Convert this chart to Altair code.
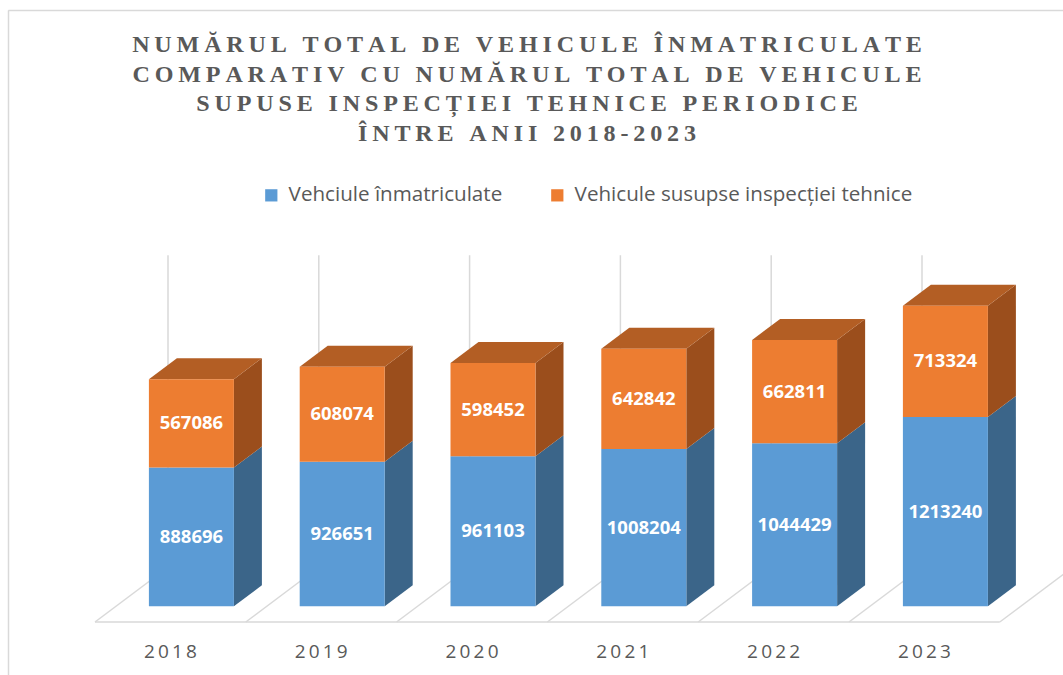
import altair as alt
import pandas as pd

# ---------------- data ----------------
years = ["2018", "2019", "2020", "2021", "2022", "2023"]
registered = [888696, 926651, 961103, 1008204, 1044429, 1213240]
inspected = [567086, 608074, 598452, 642842, 662811, 713324]
series_names = ["Vehciule înmatriculate", "Vehicule susupse inspecției tehnice"]
title_lines = [
    "NUMĂRUL TOTAL DE VEHICULE ÎNMATRICULATE",
    "COMPARATIV CU NUMĂRUL TOTAL DE VEHICULE",
    "SUPUSE INSPECȚIEI TEHNICE PERIODICE",
    "ÎNTRE ANII 2018-2023",
]
wall_top = 2000000  # value axis maximum (top of the back wall)

# ---------------- style / layout ----------------
BLUE, BLUE_SIDE = "#5B9BD5", "#3B6589"
ORANGE, ORANGE_SIDE, ORANGE_TOP = "#ED7D31", "#9B4E1C", "#B35E24"
GRID = "#D9D9D9"
TEXT = "#595959"

W, H = 1055, 665
PAD_L, PAD_T = 8, 10
CAT_PX = 150.8          # pixels per category
FLOOR_LEFT_PX = 87      # front-left floor corner (plot px)
FLOOR_FRONT_PX = 612    # front floor edge (plot px from top)
PX_PER_MILLION = 156.0
CPP = 1e6 / PX_PER_MILLION   # counts per pixel
UPP = 1.0 / CAT_PX           # category units per pixel
SLOPE = 0.75
FLOOR_DEPTH = 73
BAR_FRONT_DEPTH = 21
BAR_DEPTH = 28
BAR_W = 85
YEAR_GAP_PX = 30

x_dom = [-FLOOR_LEFT_PX * UPP, (W - FLOOR_LEFT_PX) * UPP]
y_dom = [-(H - FLOOR_FRONT_PX) * CPP, FLOOR_FRONT_PX * CPP]
xs = alt.Scale(domain=x_dom, nice=False, zero=False)
ys = alt.Scale(domain=y_dom, nice=False, zero=False)


def shift(d):
    return d * UPP, d * SLOPE * CPP


def spaced(s, sep):
    return sep.join(list(s))


# ---------------- derived geometry ----------------
fdx, fdy = shift(BAR_FRONT_DEPTH)
bdx, bdy = shift(BAR_DEPTH)
half = BAR_W / 2 * UPP
shade_side = {series_names[0]: BLUE_SIDE, series_names[1]: ORANGE_SIDE}

front_rows, side_rows, top_rows = [], [], []
for k, (yr, a, b) in enumerate(zip(years, registered, inspected)):
    cx = k + 0.5 + fdx
    x0, x1 = cx - half, cx + half
    base = fdy
    segs = [(series_names[0], base, base + a, a), (series_names[1], base + a, base + a + b, b)]
    for s, lo, hi, v in segs:
        front_rows.append(dict(year=yr, series=s, x0=x0, x1=x1, y0=lo, y1=hi,
                               ymid=(lo + hi) / 2, xc=cx, value=v))
        sid = f"{yr}-{s}"
        side_rows.append(dict(id=sid, x=x1, ylo=lo, yhi=hi, shade=shade_side[s]))
        side_rows.append(dict(id=sid, x=x1 + bdx, ylo=lo + bdy, yhi=hi + bdy, shade=shade_side[s]))
    top = base + a + b
    top_rows.append(dict(id=yr, y=top, xl=x0, xr=x1))
    top_rows.append(dict(id=yr, y=top + bdy, xl=x0 + bdx, xr=x1 + bdx))

front = pd.DataFrame(front_rows)
side = pd.DataFrame(side_rows)
topdf = pd.DataFrame(top_rows)

wdx, wdy = shift(FLOOR_DEPTH)
n = len(years)
grid = pd.DataFrame(dict(x=[k + wdx for k in range(n + 1)],
                         y=[wdy] * (n + 1), y2=[wdy + wall_top] * (n + 1)))
floor = pd.DataFrame(
    [dict(x=0.0, x2=float(n), y=0.0, y2=0.0)]
    + [dict(x=float(k), x2=k + wdx, y=0.0, y2=wdy) for k in range(n + 1)]
)
year_lab = pd.DataFrame(dict(x=[k + 0.5 for k in range(n)],
                             y=[-YEAR_GAP_PX * CPP] * n,
                             t=[spaced(y, "\u2006") for y in years]))

title_text = "\n".join(
    " ".join(spaced(w, "\u2009") for w in line.split(" ")).replace(" ", "\u2009 \u2009")
    for line in title_lines
)

one = pd.DataFrame({"a": [0]})

# ---------------- layers ----------------
border_left = alt.Chart(one).mark_rule(color=GRID, strokeWidth=1.5).encode(
    x=alt.value(0.5), y=alt.value(0.5), y2=alt.value(H))
border_top = alt.Chart(one).mark_rule(color=GRID, strokeWidth=1.5).encode(
    x=alt.value(0.5), x2=alt.value(W), y=alt.value(0.5))

grid_l = alt.Chart(grid).mark_rule(color=GRID, strokeWidth=1.5).encode(
    x=alt.X("x:Q", scale=xs, axis=None),
    y=alt.Y("y:Q", scale=ys, axis=None), y2="y2:Q")

floor_l = alt.Chart(floor).mark_rule(color=GRID, strokeWidth=1.5).encode(
    x=alt.X("x:Q", scale=xs, axis=None), x2="x2:Q",
    y=alt.Y("y:Q", scale=ys, axis=None), y2="y2:Q")

side_l = alt.Chart(side).mark_area(orient="vertical").encode(
    x=alt.X("x:Q", scale=xs, axis=None),
    y=alt.Y("ylo:Q", scale=ys, axis=None, stack=None), y2="yhi:Q",
    fill=alt.Fill("shade:N", scale=None), detail="id:N")

top_l = alt.Chart(topdf).mark_area(orient="horizontal", color=ORANGE_TOP).encode(
    y=alt.Y("y:Q", scale=ys, axis=None),
    x=alt.X("xl:Q", scale=xs, axis=None, stack=None), x2="xr:Q",
    detail="id:N")

front_l = alt.Chart(front).mark_rect().encode(
    x=alt.X("x0:Q", scale=xs, axis=None), x2="x1:Q",
    y=alt.Y("y0:Q", scale=ys, axis=None), y2="y1:Q",
    color=alt.Color("series:N",
                    scale=alt.Scale(domain=series_names, range=[BLUE, ORANGE]),
                    legend=alt.Legend(orient="none", legendX=253, legendY=175,
                                      direction="horizontal", title=None,
                                      symbolType="square", symbolSize=150,
                                      symbolStrokeWidth=0,
                                      labelFont="Open Sans", labelFontSize=20.6,
                                      labelColor=TEXT, labelOffset=7,
                                      columnPadding=44, labelLimit=600)))

val_l = alt.Chart(front).mark_text(font="Open Sans", fontWeight="bold", fontSize=18.5,
                                   color="white", baseline="middle").encode(
    x=alt.X("xc:Q", scale=xs, axis=None),
    y=alt.Y("ymid:Q", scale=ys, axis=None),
    text=alt.Text("value:Q", format="d"))

year_l = alt.Chart(year_lab).mark_text(font="Open Sans", fontSize=19, color=TEXT,
                                       baseline="middle").encode(
    x=alt.X("x:Q", scale=xs, axis=None),
    y=alt.Y("y:Q", scale=ys, axis=None),
    text="t:N")

title_l = alt.Chart(pd.DataFrame({"t": [title_text]})).mark_text(
    font="Liberation Serif", fontWeight="bold", fontSize=24.1, color=TEXT,
    lineBreak="\n", lineHeight=29.5, baseline="middle", align="center").encode(
    x=alt.value(519), y=alt.value(35), text="t:N")

chart = alt.layer(
    border_left, border_top, grid_l, floor_l, side_l, top_l, front_l, val_l, year_l, title_l
).properties(
    width=W, height=H,
    padding={"left": PAD_L, "top": PAD_T, "right": 0, "bottom": 0},
    autosize=alt.AutoSizeParams(type="none"),
).configure_view(stroke=None).configure(background="white")

chart.save("out.html", embed_options={"renderer": "svg", "actions": False})
